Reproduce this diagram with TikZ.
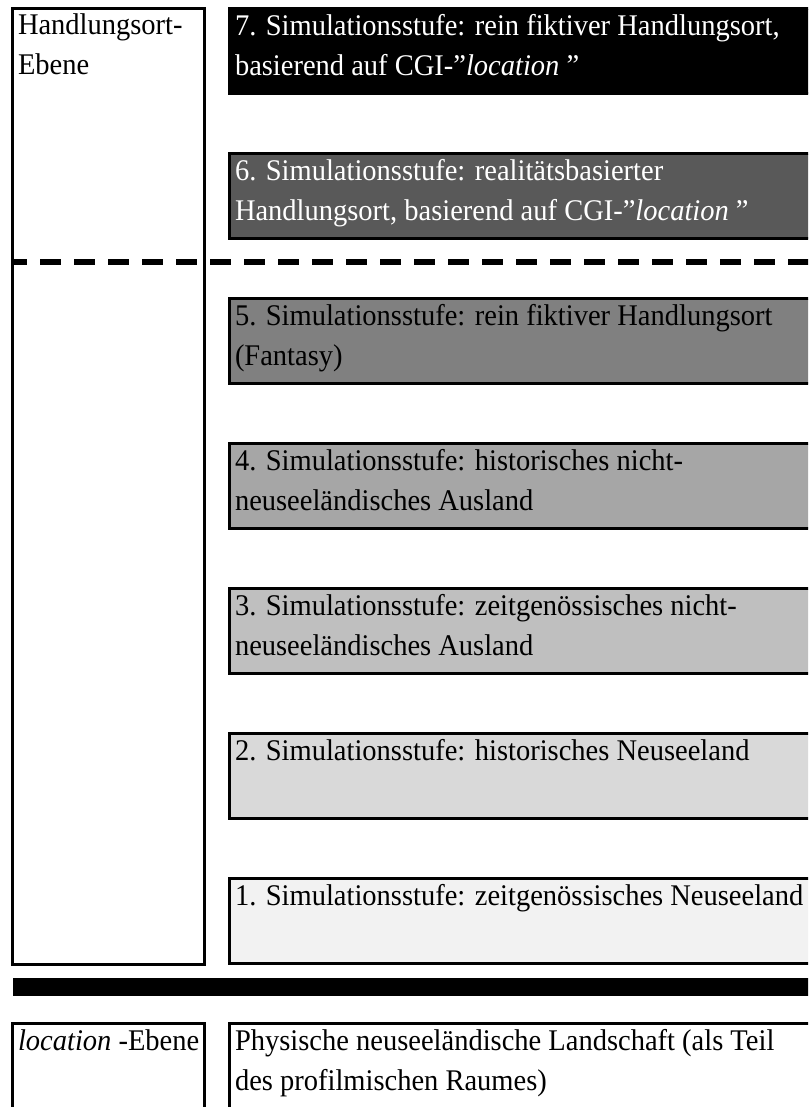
\documentclass[tikz,border=0pt]{standalone}
\usepackage{fontspec}
\setmainfont{Liberation Serif}[FakeStretch=0.95]
\usetikzlibrary{calc}
\definecolor{fillsix}{HTML}{595959}
\definecolor{fillfive}{HTML}{808080}
\definecolor{fillfour}{HTML}{A6A6A6}
\definecolor{fillthree}{HTML}{BFBFBF}
\definecolor{filltwo}{HTML}{D9D9D9}
\definecolor{fillone}{HTML}{F2F2F2}
\newcommand{\dq}{\char"0022\relax}
\begin{document}
\begin{tikzpicture}[x=1pt,y=-1pt,
  stagebox/.style={draw=black, line width=3pt, anchor=north west, outer sep=0pt,
    minimum width=600pt, minimum height=85pt, inner sep=0pt},
  levelbox/.style={draw=black, line width=3pt, anchor=north west, outer sep=0pt,
    minimum width=192pt, inner sep=0pt},
  txt/.style={anchor=north west, inner sep=0pt, outer sep=0pt, align=left,
    font=\fontsize{30}{40}\selectfont},
  divider/.style={line width=5.5pt, dash pattern=on 21pt off 13pt, dash phase=5pt},
]
\useasboundingbox (0,0) rectangle (808,1107);
\begin{scope}
\clip (0,0) rectangle (808,1107);
% left level box (Handlungsort)
\node[levelbox, minimum height=956pt] (hl) at (12.5,8.5) {};
% stage boxes
\node[stagebox, fill=black]     (s7) at (229.5,8.8) {};
\node[stagebox, fill=fillsix]   (s6) at (229.5,153.8) {};
\node[stagebox, fill=fillfive]  (s5) at (229.5,298.8) {};
\node[stagebox, fill=fillfour]  (s4) at (229.5,443.8) {};
\node[stagebox, fill=fillthree] (s3) at (229.5,588.8) {};
\node[stagebox, fill=filltwo]   (s2) at (229.5,733.8) {};
\node[stagebox, fill=fillone]   (s1) at (229.5,878.8) {};
% bar
\node[fill=black, anchor=north west, inner sep=0pt, outer sep=0pt,
  minimum width=820pt, minimum height=17.5pt] (bar) at (13,978) {};
% location level boxes
\node[levelbox, minimum height=200pt] (ll) at (12.5,1023.5) {};
\node[stagebox, minimum height=200pt] (lr) at (229.5,1023.5) {};
% divider
\coordinate (dl) at (11,262);
\coordinate (dr) at (810,262);
\draw[divider] (dl) -- (dr);
% texts
\node[txt] (thl) at ($(hl.north west)+(5.5,-1.5)$) {\strut Handlungsort-\\Ebene};
\node[txt, text=white] (t7) at ($(s7.north west)+(5.5,-1.5)$)
  {\strut 7. Simulationsstufe: rein fiktiver Handlungsort,\\basierend auf CGI-\dq\textit{location} \dq};
\node[txt, text=white] (t6) at ($(s6.north west)+(5.5,-1.5)$)
  {\strut 6. Simulationsstufe: realitätsbasierter\\Handlungsort, basierend auf CGI-\dq\textit{location} \dq};
\node[txt] (t5) at ($(s5.north west)+(5.5,-1.5)$)
  {\strut 5. Simulationsstufe: rein fiktiver Handlungsort\\(Fantasy)};
\node[txt] (t4) at ($(s4.north west)+(5.5,-1.5)$)
  {\strut 4. Simulationsstufe: historisches nicht-\\neuseeländisches Ausland};
\node[txt] (t3) at ($(s3.north west)+(5.5,-1.5)$)
  {\strut 3. Simulationsstufe: zeitgenössisches nicht-\\neuseeländisches Ausland};
\node[txt] (t2) at ($(s2.north west)+(5.5,-1.5)$)
  {\strut 2. Simulationsstufe: historisches Neuseeland};
\node[txt] (t1) at ($(s1.north west)+(5.5,-1.5)$)
  {\strut 1. Simulationsstufe: zeitgenössisches Neuseeland};
\node[txt] (tll) at ($(ll.north west)+(5.5,-1.5)$)
  {\strut\textit{location} -Ebene};
\node[txt] (tlr) at ($(lr.north west)+(5.5,-1.5)$)
  {\strut Physische neuseeländische Landschaft (als Teil\\des profilmischen Raumes)};
\end{scope}
\end{tikzpicture}
\end{document}
